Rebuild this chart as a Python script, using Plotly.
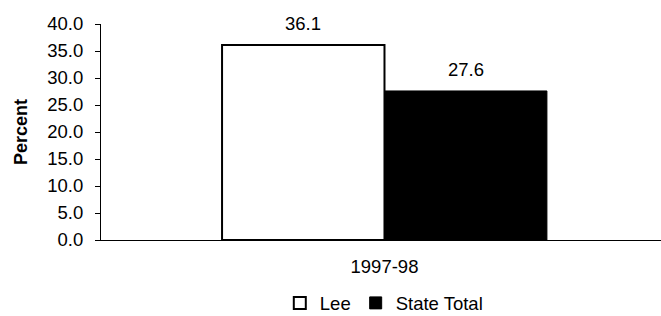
import plotly.graph_objects as go

categories = ["1997-98"]
lee_values = [36.1]
state_values = [27.6]
y_ticks = [0, 5, 10, 15, 20, 25, 30, 35, 40]

font = "Liberation Sans, Arial, sans-serif"
FS = 18.5
bargap = 0.427

fig = go.Figure()
fig.add_trace(go.Bar(
    x=categories, y=lee_values, name="Lee",
    marker=dict(color="white", line=dict(color="black", width=2)),
))
fig.add_trace(go.Bar(
    x=categories, y=state_values, name="State Total",
    marker=dict(color="black", line=dict(color="black", width=1)),
))

bar_w = (1 - bargap) / 2
series = [lee_values, state_values]
for si, vals in enumerate(series):
    for ci, v in enumerate(vals):
        xc = ci - (1 - bargap) / 2 + bar_w * (si + 0.5)
        fig.add_annotation(x=xc, y=v, xref="x", yref="y", text=f"{v:.1f}",
                           showarrow=False, yanchor="bottom", yshift=9,
                           font=dict(size=FS, color="black", family=font))

fig.update_layout(
    width=661, height=316,
    margin=dict(l=101, r=0, t=24, b=76, autoexpand=False),
    paper_bgcolor="white", plot_bgcolor="white",
    barmode="group", bargap=bargap, bargroupgap=0,
    font=dict(family=font, size=FS, color="black"),
    showlegend=True,
    legend=dict(orientation="h", x=0.505, xanchor="center", yref="container",
                y=0.04, yanchor="middle",
                font=dict(size=FS), itemwidth=30, tracegroupgap=0),
    xaxis=dict(showline=True, linecolor="black", linewidth=1, ticks="",
               range=[-0.5, 0.4877],
               tickfont=dict(size=FS), showgrid=False, automargin=False,
               ticklabelstandoff=10),
    yaxis=dict(range=[0, 40], tickvals=y_ticks, ticktext=[f"{v:.1f}" for v in y_ticks],
               showline=True, linecolor="black", linewidth=1, ticks="outside",
               ticklen=5, tickcolor="black", showgrid=False, zeroline=False,
               tickfont=dict(size=FS), automargin=False, ticklabelstandoff=8,
               title=dict(text="<b>Percent</b>", font=dict(size=18), standoff=14)),
)

fig.write_html("out.html", config={"displayModeBar": False, "responsive": False},
               post_script="document.body.style.margin='0';document.body.style.overflow='hidden';")
